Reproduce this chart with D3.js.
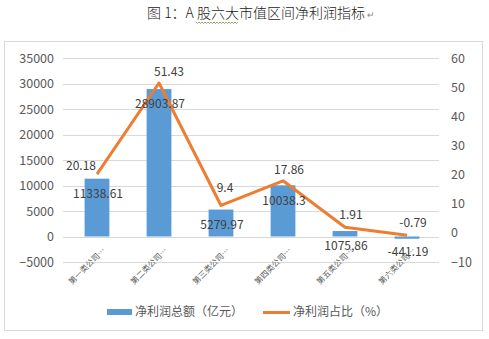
<!DOCTYPE html>
<html><head><meta charset="utf-8">
<script src="https://cdn.jsdelivr.net/npm/d3@7"></script>
<style>
html,body{margin:0;padding:0;background:#fff;}
svg{display:block;font-family:"Microsoft YaHei","Noto Sans CJK SC","Noto Sans",sans-serif;}
</style></head>
<body>
<svg id="c" width="489" height="339"></svg>
<script>
const title = "图 1：A 股六大市值区间净利润指标";
const categories = ["第一类公司…","第二类公司…","第三类公司…","第四类公司…","第五类公司…","第六类公司…"];
const profitTotal = [11338.61, 28903.87, 5279.97, 10038.3, 1075.86, -441.19];
const profitTotalLabels = ["11338.61","28903.87","5279.97","10038.3","1075,86","-441.19"];
const profitShare = [20.18, 51.43, 9.4, 17.86, 1.91, -0.79];
const leftTicks = [-5000, 0, 5000, 10000, 15000, 20000, 25000, 30000, 35000];
const rightTicks = [-10, 0, 10, 20, 30, 40, 50, 60];
const seriesNames = ["净利润总额（亿元）", "净利润占比（%）"];

// layout-only nudges for line data labels (dx, dy relative to point)
const lineLabelShift = [[-16,-8],[10,-11],[4,-18],[6,-11],[6,-12],[6,-12]];

const svg = d3.select("#c");
const textColor = "#595959";
const blue = "#5b9bd5", orange = "#ed7d31", grid = "#d9d9d9";
const ff = "\"Microsoft YaHei\",\"Noto Sans CJK SC\",sans-serif";

// chart frame
svg.append("rect").attr("x",4.5).attr("y",41.5).attr("width",478).attr("height",289)
  .attr("fill","none").attr("stroke","#d9d9d9");

// title
svg.append("text").attr("x",256).attr("y",18).attr("text-anchor","middle")
  .attr("font-size",14).attr("font-weight",300).attr("fill","#1a1a1a").text(title);
svg.append("text").attr("x",367).attr("y",18).attr("font-size",9).attr("fill","#888").text("↵");
// wavy underline (word proofing mark)
{
  let p = "M196,22";
  for (let xx=196; xx<237; xx+=3) p += ` L${xx+1.5},${(xx/3)%2?23.5:21} L${xx+3},22`;
  svg.append("path").attr("d",p).attr("fill","none").attr("stroke","#6c9a3c").attr("stroke-width",0.8);
}

const yTop = 58, yBot = 262;
const yL = d3.scaleLinear().domain([-5000,35000]).range([yBot,yTop]);
const yR = d3.scaleLinear().domain([-10,60]).range([yBot,yTop]);
const x = d3.scaleBand().domain(categories).range([66,438]).padding(0);
const cx = d => x(d) + x.bandwidth()/2;

// gridlines
svg.append("g").selectAll("line").data(leftTicks).join("line")
  .attr("x1",63).attr("x2",439)
  .attr("y1",d=>Math.round(yL(d))+0.5).attr("y2",d=>Math.round(yL(d))+0.5)
  .attr("stroke",grid).attr("stroke-width",1);

// left axis
const axL = d3.axisLeft(yL).tickValues(leftTicks).tickFormat(d3.format("d")).tickSize(0).tickPadding(0);
const gL = svg.append("g").attr("transform","translate(54,0)").call(axL);
gL.select(".domain").remove();
gL.selectAll("text").attr("fill",textColor).attr("font-size",12.5).attr("font-family",ff);

// right axis
const axR = d3.axisRight(yR).tickValues(rightTicks).tickFormat(d3.format("d")).tickSize(0).tickPadding(0);
const gR = svg.append("g").attr("transform","translate(451,0)").call(axR);
gR.select(".domain").remove();
gR.selectAll("text").attr("fill",textColor).attr("font-size",12.5).attr("font-family",ff);

// bars
const bw = x.bandwidth()*0.4;
svg.append("g").selectAll("rect").data(profitTotal).join("rect")
  .attr("x",(d,i)=>cx(categories[i]) - bw/2)
  .attr("y",d=>yL(Math.max(0,d)))
  .attr("width",bw)
  .attr("height",d=>Math.abs(yL(d)-yL(0)))
  .attr("fill",blue);

// line
const line = d3.line().x((d,i)=>cx(categories[i])).y(d=>yR(d));
svg.append("path").datum(profitShare).attr("d",line)
  .attr("fill","none").attr("stroke",orange).attr("stroke-width",3).attr("stroke-linejoin","round");

// bar labels
svg.append("g").selectAll("text").data(profitTotal).join("text")
  .attr("x",(d,i)=>cx(categories[i]) + 1)
  .attr("y",d=>yL(Math.max(0,d)) + 15)
  .attr("dy","0.35em")
  .attr("text-anchor","middle").attr("font-size",12).attr("fill","#404040")
  .text((d,i)=>profitTotalLabels[i]);

// line labels
svg.append("g").selectAll("text").data(profitShare).join("text")
  .attr("x",(d,i)=>cx(categories[i]) + lineLabelShift[i][0])
  .attr("y",(d,i)=>yR(d) + lineLabelShift[i][1])
  .attr("dy","0.35em")
  .attr("text-anchor","middle").attr("font-size",12).attr("fill","#404040")
  .text(d=>String(d));

// category labels
svg.append("g").selectAll("text").data(categories).join("text")
  .attr("transform",d=>`translate(${cx(d)+7},249) rotate(-45)`)
  .attr("text-anchor","end").attr("dy","0.35em")
  .attr("font-size",8).attr("fill",textColor)
  .text(d=>d);

// legend
const lg = svg.append("g");
lg.append("rect").attr("x",107).attr("y",309).attr("width",25).attr("height",6).attr("fill",blue);
lg.append("text").attr("x",135).attr("y",312).attr("dy","0.35em").attr("font-size",12)
  .attr("fill",textColor).text(seriesNames[0]);
lg.append("line").attr("x1",263).attr("x2",290).attr("y1",312.5).attr("y2",312.5)
  .attr("stroke",orange).attr("stroke-width",3);
lg.append("text").attr("x",293).attr("y",312).attr("dy","0.35em").attr("font-size",12)
  .attr("fill",textColor).text(seriesNames[1]);
</script>
</body></html>
